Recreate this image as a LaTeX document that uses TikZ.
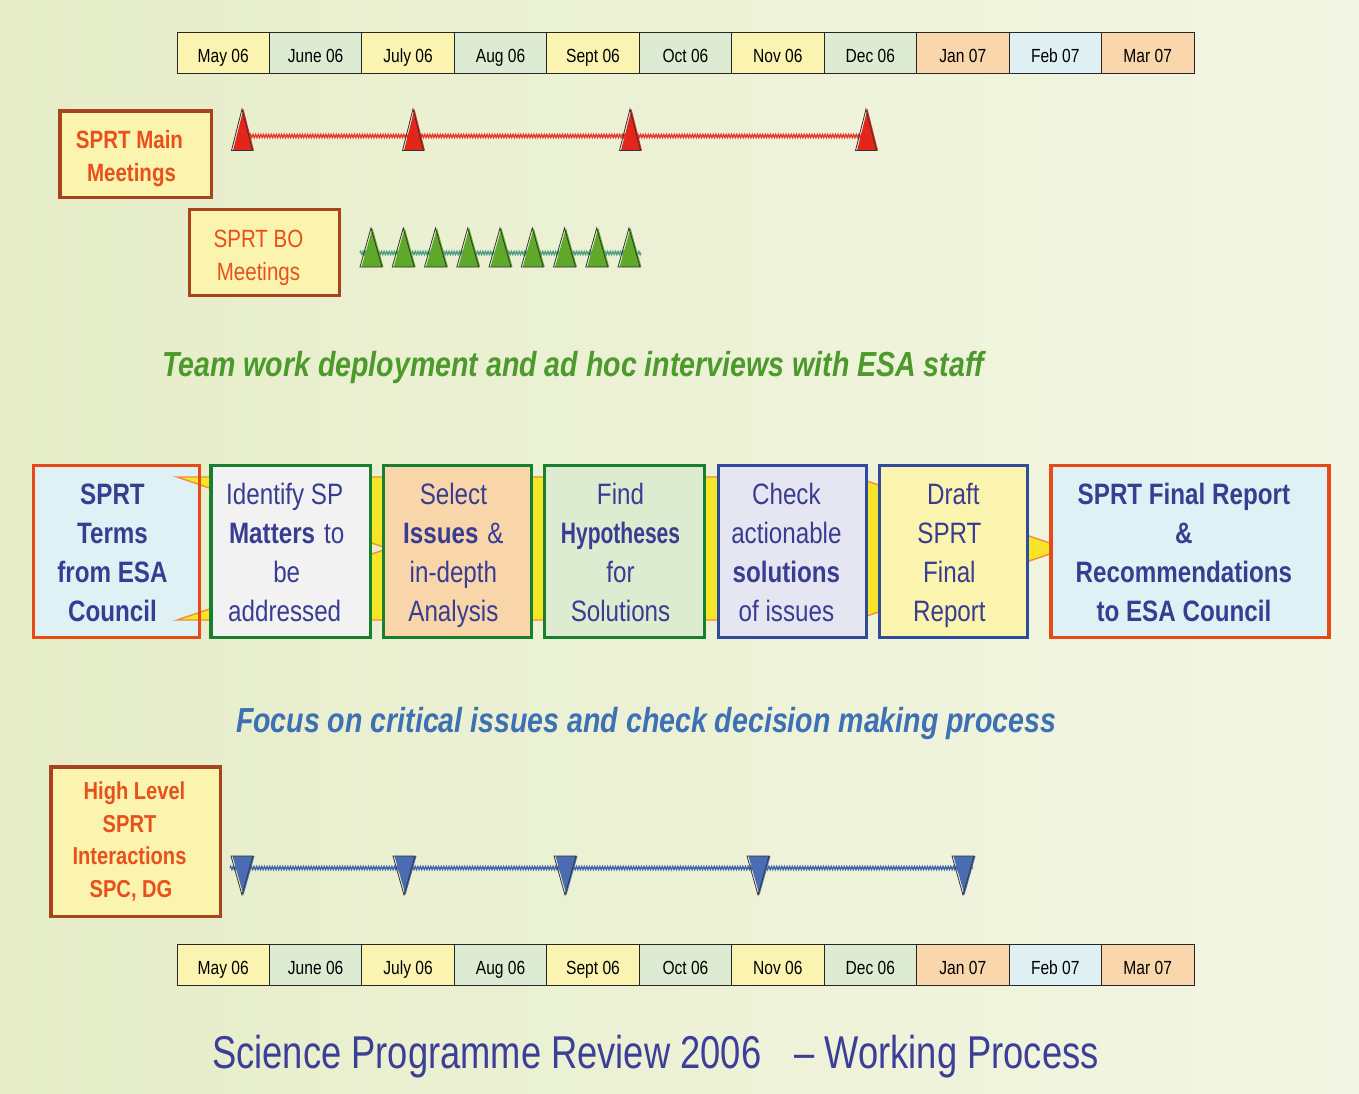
\documentclass[tikz,border=0pt]{standalone}
\usepackage{fontspec}
\setmainfont{Liberation Sans}[FakeStretch=0.82]
\usetikzlibrary{decorations.pathmorphing}

\definecolor{bgL}{HTML}{E6EDC8}
\definecolor{bgR}{HTML}{F3F6E4}
\definecolor{mY}{HTML}{FBF4B0}
\definecolor{mG}{HTML}{DDEBD2}
\definecolor{mP}{HTML}{F9D6AC}
\definecolor{mB}{HTML}{DFF0F5}
\definecolor{labOrange}{HTML}{E8501C}
\definecolor{labBrown}{HTML}{A9431D}
\definecolor{labFill}{HTML}{FBF4AE}
\definecolor{navy}{HTML}{383D92}
\definecolor{edgeRed}{HTML}{E54A17}
\definecolor{edgeGreen}{HTML}{17802F}
\definecolor{edgeBlue}{HTML}{2F4C9C}
\definecolor{fillBlue}{HTML}{DFF1F4}
\definecolor{fillGrey}{HTML}{F2F2F2}
\definecolor{fillPeach}{HTML}{F9D6AA}
\definecolor{fillGreen}{HTML}{DDEBD1}
\definecolor{fillLav}{HTML}{E6E6F2}
\definecolor{fillYel}{HTML}{FBF4AE}
\definecolor{chevYel}{HTML}{F6E627}
\definecolor{chevEdge}{HTML}{F08C3A}
\definecolor{triRed}{HTML}{E3261C}
\definecolor{triGreen}{HTML}{5EA82A}
\definecolor{triBlue}{HTML}{4A6CB3}
\definecolor{lineRed}{HTML}{E8372C}
\definecolor{lineGreen}{HTML}{4E9F82}
\definecolor{lineBlue}{HTML}{4264AA}
\definecolor{txtGreen}{HTML}{4B9A2B}
\definecolor{txtBlue}{HTML}{3D70B5}
\definecolor{titleBlue}{HTML}{3C3F98}

% invisible rules fixing the height of a first line and the depth of a last line
\newcommand{\topline}[1]{\rule{0pt}{#1pt}}
\newcommand{\botline}[1]{\rule[-#1pt]{0pt}{#1pt}}
% right padding that moves a centred line a little to the left
\newcommand{\lp}{\kern12pt}
\newcommand{\pp}{\kern8pt}

\begin{document}
\begin{tikzpicture}[x=1pt,y=-1pt,
  month/.style={draw=black!85, line width=0.8, minimum width=92.45,
    minimum height=41, inner sep=0, text=black, text height=19.6,
    text depth=0, font=\fontsize{19}{19}\selectfont},
  labelbox/.style={draw=labBrown, fill=labFill, inner sep=0, align=center,
    text=labOrange, font=\fontsize{25}{33}\selectfont},
  pbox/.style={minimum height=172, inner sep=0, align=center, text=navy,
    line width=3.3, font=\fontsize{29.5}{39}\selectfont},
  chevron/.style={fill=chevYel, draw=chevEdge, line width=1.4},
  wavy/.style={decorate, decoration={zigzag, segment length=2.6, amplitude=1.6},
    line width=1.3},
  triedge/.style={draw=black!80, line width=0.8},
  upmark/.pic={\path[pic actions] (-10.5,14.5) -- (0,-27) -- (10.5,14.5) -- cycle;},
  bomark/.pic={\path[pic actions] (-11,14) -- (0,-25) -- (11,14) -- cycle;},
  downmark/.pic={\path[pic actions] (-11,-12) -- (0,27) -- (11,-12) -- cycle;},
  banner/.style={inner sep=0, font=\fontsize{34.8}{40}\selectfont\bfseries\itshape}
]
\useasboundingbox (0,0) rectangle (1359,1093);
\shade[left color=bgL, right color=bgR] (0,0) rectangle (1359,1093);

% month scales, top and bottom
\foreach \mon/\col [count=\i from 0] in {May 06/mY, June 06/mG, July 06/mY,
    Aug 06/mG, Sept 06/mY, Oct 06/mG, Nov 06/mY, Dec 06/mG, Jan 07/mP,
    Feb 07/mB, Mar 07/mP} {
  \node[month, fill=\col] (top\i) at ({223.2+92.45*\i}, 52.5) {\mon};
  \node[month, fill=\col] (bot\i) at ({223.2+92.45*\i}, 964.5) {\mon};
}

% meeting labels
\node[labelbox, line width=3.5, minimum width=151.5, minimum height=86.5]
  (main) at (135.5,154)
  {\topline{28}\bfseries SPRT Main\lp\\\bfseries Meetings\kern8pt\botline{7}};
\node[labelbox, line width=3, minimum width=150, minimum height=86]
  (bo) at (264.5,252.5) {\topline{29}SPRT BO\lp\\Meetings\lp\botline{7}};
\node[labelbox, line width=3.5, minimum width=169.5, minimum height=149.5,
  font=\fontsize{24.5}{32.7}\selectfont\bfseries]
  (high) at (135.5,841.5)
  {\topline{21}High Level\kern2pt\\SPRT\lp\\Interactions\lp\\SPC, DG\kern9pt\botline{7}};

% main meetings
\foreach \n/\x in {1/242, 2/413, 3/630, 4/866}
  \coordinate (m\n) at (\x,136);
\draw[wavy, lineRed] (m1) -- (m4);
\foreach \n in {1,...,4} {
  \pic[fill=triRed] at ([xshift=1.5]m\n) {upmark};
  \pic[triedge] at (m\n) {upmark};
}

% break-out meetings
\coordinate (bs) at (360,253);
\coordinate (be) at (641,253);
\foreach \n in {1,...,9}
  \coordinate (b\n) at ({371+32.25*(\n-1)},253);
\draw[wavy, lineGreen] (bs) -- (be);
\foreach \n in {1,...,9} {
  \pic[fill=triGreen] at ([xshift=1.5]b\n) {bomark};
  \pic[triedge] at (b\n) {bomark};
}

% high level interactions
\coordinate (hs) at (230,868);
\coordinate (he) at (973,868);
\foreach \n/\x in {1/242, 2/404, 3/565, 4/758, 5/963}
  \coordinate (h\n) at (\x,868);
\draw[wavy, lineBlue] (hs) -- (he);
\foreach \n in {1,...,5} {
  \pic[fill=triBlue] at ([xshift=1.5]h\n) {downmark};
  \pic[triedge] at (h\n) {downmark};
}

% banners
\node[banner, text=txtGreen] (team) at (573,367)
  {Team work deployment and ad hoc interviews with ESA staff};
\node[banner, text=txtBlue] (focus) at (646,723)
  {Focus on critical issues and check decision making process};

% process chain
\fill[fillBlue] (33.5,465.5) rectangle (199.5,637.5);
\path[chevron] (177,477) -- (855,477) -- (1066,548.5) -- (855,620)
  -- (177,620) -- (388,548.5) -- cycle;
\node[pbox, draw=edgeRed, line width=3.8, minimum width=166,
  font=\fontsize{29.5}{39}\selectfont\bfseries]
  (s1) at (116.5,551.5)
  {\topline{30.3}SPRT\pp\\Terms\pp\\from ESA\pp\\Council\pp\botline{7}};
\node[pbox, draw=edgeGreen, fill=fillGrey, minimum width=159.5]
  (s2) at (290.7,551.5)
  {\topline{30.3}Identify SP\lp\\\textbf{Matters}\hspace{9pt}to\pp\\be\pp\\addressed\lp\botline{7}};
\node[pbox, draw=edgeGreen, fill=fillPeach, minimum width=148]
  (s3) at (457.4,551.5)
  {\topline{30.3}Select\pp\\\textbf{Issues}\hspace{9pt}\&\pp\\in-depth\pp\\Analysis\pp\botline{7}};
\node[pbox, draw=edgeGreen, fill=fillGreen, minimum width=160]
  (s4) at (624.5,551.5)
  {\topline{30.3}Find\pp\\\scalebox{0.87}[1]{\textbf{Hypotheses}}\pp\\for\pp\\Solutions\pp\botline{7}};
\node[pbox, draw=edgeBlue, fill=fillLav, minimum width=148]
  (s5) at (792.4,551.5)
  {\topline{30.3}Check\lp\\actionable\lp\\\textbf{solutions}\lp\\of issues\lp\botline{7}};
\node[pbox, draw=edgeBlue, fill=fillYel, minimum width=148]
  (s6) at (953.4,551.5)
  {\topline{30.3}Draft\\SPRT\pp\\Final\pp\\Report\pp\botline{7}};
\node[pbox, draw=edgeRed, fill=fillBlue, line width=3.8, minimum width=278,
  font=\fontsize{29.5}{39}\selectfont\bfseries]
  (s7) at (1189.9,551.5)
  {\topline{30.3}SPRT Final Report\lp\\\&\lp\\Recommendations\lp\\to ESA Council\lp\botline{7}};

% title
\node[inner sep=0, anchor=base, text=titleBlue, font=\fontsize{46}{50}\selectfont]
  (title) at (655.5,1068.3)
  {\scalebox{0.963}[1]{Science Programme Review 2006\hspace{24pt} – Working Process}};
\end{tikzpicture}
\end{document}
